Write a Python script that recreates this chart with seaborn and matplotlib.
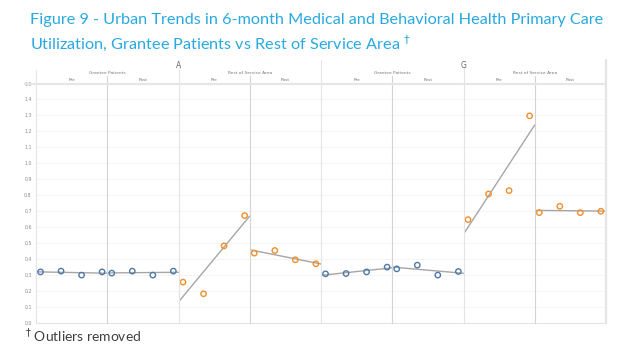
import numpy as np
import pandas as pd
import matplotlib
matplotlib.use("Agg")
import matplotlib.pyplot as plt
from matplotlib.lines import Line2D
import seaborn as sns

# values (4 half-months per period)
months = [0, 1, 2, 3]
a_grantee_pre = [0.32, 0.325, 0.30, 0.32]
a_grantee_post = [0.3125, 0.325, 0.30, 0.325]
a_rest_pre = [0.256, 0.183, 0.483, 0.673]
a_rest_post = [0.4375, 0.454, 0.396, 0.371]
g_grantee_pre = [0.308, 0.31, 0.32, 0.35]
g_grantee_post = [0.339, 0.3625, 0.30, 0.3225]
g_rest_pre = [0.6475, 0.808, 0.829, 1.2975]
g_rest_post = [0.691, 0.731, 0.691, 0.70]

groups = ["A", "G"]
areas = ["Grantee Patients", "Rest of Service Area"]
periods = ["Pre", "Post"]
yticks = [round(v * 0.1, 1) for v in range(16)]

panels = [a_grantee_pre, a_grantee_post, a_rest_pre, a_rest_post,
          g_grantee_pre, g_grantee_post, g_rest_pre, g_rest_post]
blue = "#4e79a7"
orange = "#f28e2b"
colors = [blue, blue, orange, orange, blue, blue, orange, orange]

W, H = 624, 358
fig = plt.figure(figsize=(W / 100, H / 100), dpi=100)
sns.set_style("white")

x0, x1 = 36, 606
y_top, y_bot = 83.5, 323
pw = (x1 - x0) / 8


def fx(px):
    return px / W


def fy(py):
    return 1 - py / H


grid_c = "#f2f2f2"
sep_c = "#e4e4e4"

for i, (vals, col) in enumerate(zip(panels, colors)):
    ax = fig.add_axes([fx(x0 + i * pw), fy(y_bot), pw / W, (y_bot - y_top) / H])
    ax.set_xlim(-0.22, 3.25)
    ax.set_ylim(0, 1.5)
    ax.set_yticks(yticks)
    for t in yticks:
        ax.axhline(t, color=grid_c, lw=0.6, zorder=0)
    df = pd.DataFrame({"m": months, "v": vals})
    sns.regplot(data=df, x="m", y="v", ax=ax, scatter=False, ci=None,
                truncate=False, line_kws=dict(color="#a6a6a6", lw=1.0))
    sns.scatterplot(data=df, x="m", y="v", ax=ax, marker="o", s=15,
                    facecolor="none", edgecolor=col, linewidth=1.0, zorder=3)
    ax.set_xlim(-0.22, 3.25)
    ax.set_ylim(0, 1.5)
    ax.set_xticks([])
    ax.set_xlabel("")
    ax.set_ylabel("")
    for s in ["top", "left", "right"]:
        ax.spines[s].set_visible(False)
    ax.spines["bottom"].set_color(sep_c)
    ax.spines["bottom"].set_linewidth(0.8)
    if i == 0:
        ax.tick_params(axis="y", labelsize=3.4, labelcolor="#8a8a8a",
                       length=0, pad=3)
        ax.set_yticklabels([f"{t:.1f}" for t in yticks])
    else:
        ax.set_yticklabels([])
        ax.tick_params(axis="y", length=0)

# separators and header lines
def vline(px, top, color=sep_c, lw=0.8):
    fig.add_artist(Line2D([fx(px), fx(px)], [fy(top), fy(y_bot)],
                          color=color, lw=lw, transform=fig.transFigure))

vline(x0, 70)
for k in range(1, 8):
    px = x0 + k * pw
    if k == 4:
        vline(px, 60)
    elif k % 2 == 0:
        vline(px, 67)
    else:
        vline(px, 76, color="#d4d4d4")
vline(x1, 60, lw=1.6)
fig.add_artist(Line2D([fx(25), fx(x1)], [fy(y_top), fy(y_top)],
                      color="#e6e6e6", lw=1.6, transform=fig.transFigure))

for g, name in enumerate(groups):
    fig.text(fx(x0 + (4 * g + 2) * pw), fy(65), name, ha="center", va="center",
             fontsize=5.5, color="#666666")
    for a, area in enumerate(areas):
        fig.text(fx(x0 + (4 * g + 2 * a + 1) * pw), fy(72.5), area,
                 ha="center", va="center", fontsize=3.2, color="#777777")
        for p, per in enumerate(periods):
            fig.text(fx(x0 + (4 * g + 2 * a + p + 0.5) * pw), fy(80), per,
                     ha="center", va="center", fontsize=3.2, color="#777777")

title_c = "#29a9e0"
fig.text(fx(30), fy(20), "Figure 9 - Urban Trends in 6-month Medical and Behavioral Health Primary Care",
         ha="left", va="center", fontsize=11.7, color=title_c, family="Lato")
fig.text(fx(30), fy(43), "Utilization, Grantee Patients vs Rest of Service Area $^{\\dagger}$",
         ha="left", va="center", fontsize=11.7, color=title_c, family="Lato")
fig.text(fx(25), fy(336), "$^{\\dagger}$ Outliers removed", ha="left", va="center",
         fontsize=10, color="#404040", family="Lato")

fig.savefig("out.png", dpi=100)
